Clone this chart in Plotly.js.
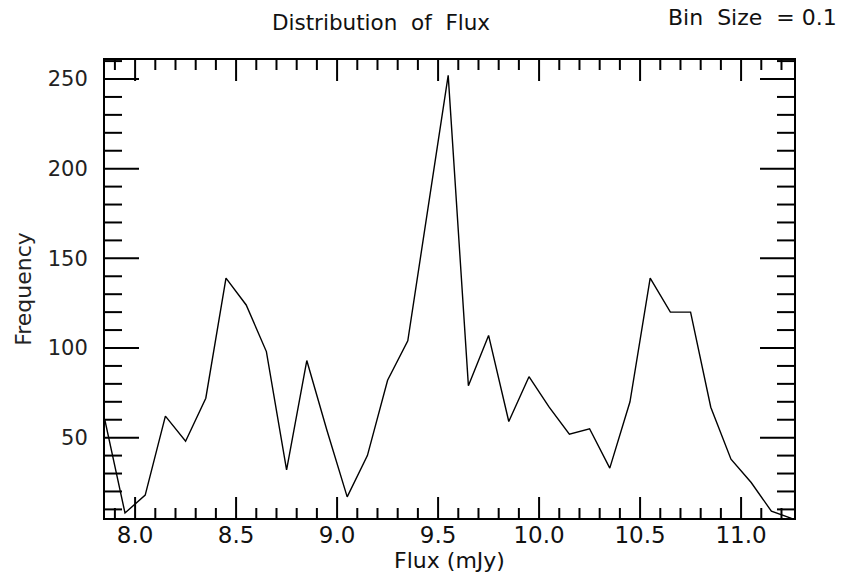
<!DOCTYPE html>
<html>
<head>
<meta charset="utf-8">
<script src="https://cdn.plot.ly/plotly-3.0.1.min.js"></script>
<style>html,body{margin:0;padding:0;background:#fff;}#chart{width:845px;height:585px;}</style>
</head>
<body>
<div id="chart"></div>
<script>
// Bin centres (mJy) and frequencies
const flux = [7.85, 7.95, 8.05, 8.15, 8.25, 8.35, 8.45, 8.55, 8.65, 8.75,
              8.85, 8.95, 9.05, 9.15, 9.25, 9.35, 9.45, 9.55, 9.65, 9.75,
              9.85, 9.95, 10.05, 10.15, 10.25, 10.35, 10.45, 10.55, 10.65, 10.75,
              10.85, 10.95, 11.05, 11.15, 11.25];
const frequency = [60, 8, 18, 62, 48, 72, 139, 124, 98, 32,
                   93, 54, 17, 40, 82, 104, 178, 252, 79, 107,
                   59, 84, 67, 52, 55, 33, 70, 139, 120, 120,
                   67, 38, 25, 9, 5];
// major tick labels: x from 8.0 every 0.5, y from 50 every 50; minor ticks every 0.1 / 10
const xTickStart = 8.0, xTickStep = 0.5, xMinorStep = 0.1;
const yTickStart = 0, yTickStep = 50, yMinorStep = 10;

const chartTitle = "Distribution\u00a0\u00a0of\u00a0\u00a0Flux";
const binLabel = "Bin\u00a0\u00a0Size\u00a0\u00a0=\u00a00.1";
const xLabel = "Flux (mJy)";
const yLabel = "Frequency";

const xRange = [7.851, 11.262];
const yRange = [5.2, 260.6];

const trace = {
  x: flux, y: frequency, type: 'scatter', mode: 'lines',
  line: {color: '#000', width: 1.4}, hoverinfo: 'x+y'
};

// Inside tick marks on all four sides, placed on the axis scales (value refs), length in pixels
const tickLine = {color: '#000', width: 2};
const shapes = [];
const xPerMajor = Math.round(xTickStep / xMinorStep);
for (let k = Math.ceil((xRange[0] - xTickStart) / xMinorStep); ; k++) {
  const v = +(xTickStart + k * xMinorStep).toFixed(6);
  if (v > xRange[1]) break;
  if (v < xRange[0]) continue;
  const len = (k % xPerMajor === 0) ? 21 : 10;
  shapes.push({type: 'line', xref: 'x', x0: v, x1: v, yref: 'paper', ysizemode: 'pixel', yanchor: 0, y0: 0, y1: len, line: tickLine});
  shapes.push({type: 'line', xref: 'x', x0: v, x1: v, yref: 'paper', ysizemode: 'pixel', yanchor: 1, y0: 0, y1: -len, line: tickLine});
}
const yPerMajor = Math.round(yTickStep / yMinorStep);
for (let k = Math.ceil((yRange[0] - yTickStart) / yMinorStep); ; k++) {
  const v = yTickStart + k * yMinorStep;
  if (v > yRange[1]) break;
  if (v < yRange[0]) continue;
  const len = (k % yPerMajor === 0) ? 34 : 17;
  shapes.push({type: 'line', yref: 'y', y0: v, y1: v, xref: 'paper', xsizemode: 'pixel', xanchor: 0, x0: 0, x1: len, line: tickLine});
  shapes.push({type: 'line', yref: 'y', y0: v, y1: v, xref: 'paper', xsizemode: 'pixel', xanchor: 1, x0: 0, x1: -len, line: tickLine});
}

const layout = {
  width: 845, height: 585,
  margin: {l: 105, r: 51, t: 60, b: 67},
  paper_bgcolor: '#fff', plot_bgcolor: '#fff',
  showlegend: false,
  font: {family: 'DejaVu Sans', color: '#222'},
  title: {
    text: chartTitle, font: {family: 'DejaVu Sans', size: 21.5, color: '#111'},
    x: 381/845, xanchor: 'center', xref: 'container',
    y: 1 - 22/585, yanchor: 'middle', yref: 'container'
  },
  xaxis: {
    range: xRange, showgrid: false, zeroline: false,
    showline: true, linecolor: '#000', linewidth: 2, mirror: true,
    ticks: '', tickmode: 'linear', tick0: xTickStart, dtick: xTickStep, tickformat: '.1f',
    ticklabelstandoff: -5,
    tickfont: {family: 'DejaVu Sans', size: 23, color: '#111'},
    title: {text: xLabel, standoff: 6, font: {family: 'DejaVu Sans', size: 22, color: '#111'}}
  },
  yaxis: {
    range: yRange, showgrid: false, zeroline: false,
    showline: true, linecolor: '#000', linewidth: 2, mirror: true,
    ticks: '', tickmode: 'linear', tick0: yTickStart, dtick: yTickStep,
    ticklabelstandoff: 11,
    tickfont: {family: 'DejaVu Sans', size: 21, color: '#222'},
    title: {text: yLabel, standoff: 10, font: {family: 'DejaVu Sans', size: 22, color: '#222'}}
  },
  shapes: shapes,
  annotations: [{
    text: binLabel, xref: 'paper', yref: 'paper',
    x: (839 - 105) / 689, xanchor: 'right',
    y: (518 - 18) / 458, yanchor: 'middle',
    showarrow: false, font: {family: 'DejaVu Sans', size: 22, color: '#111'}
  }]
};

Plotly.newPlot('chart', [trace], layout, {staticPlot: true, displayModeBar: false});
</script>
</body>
</html>
